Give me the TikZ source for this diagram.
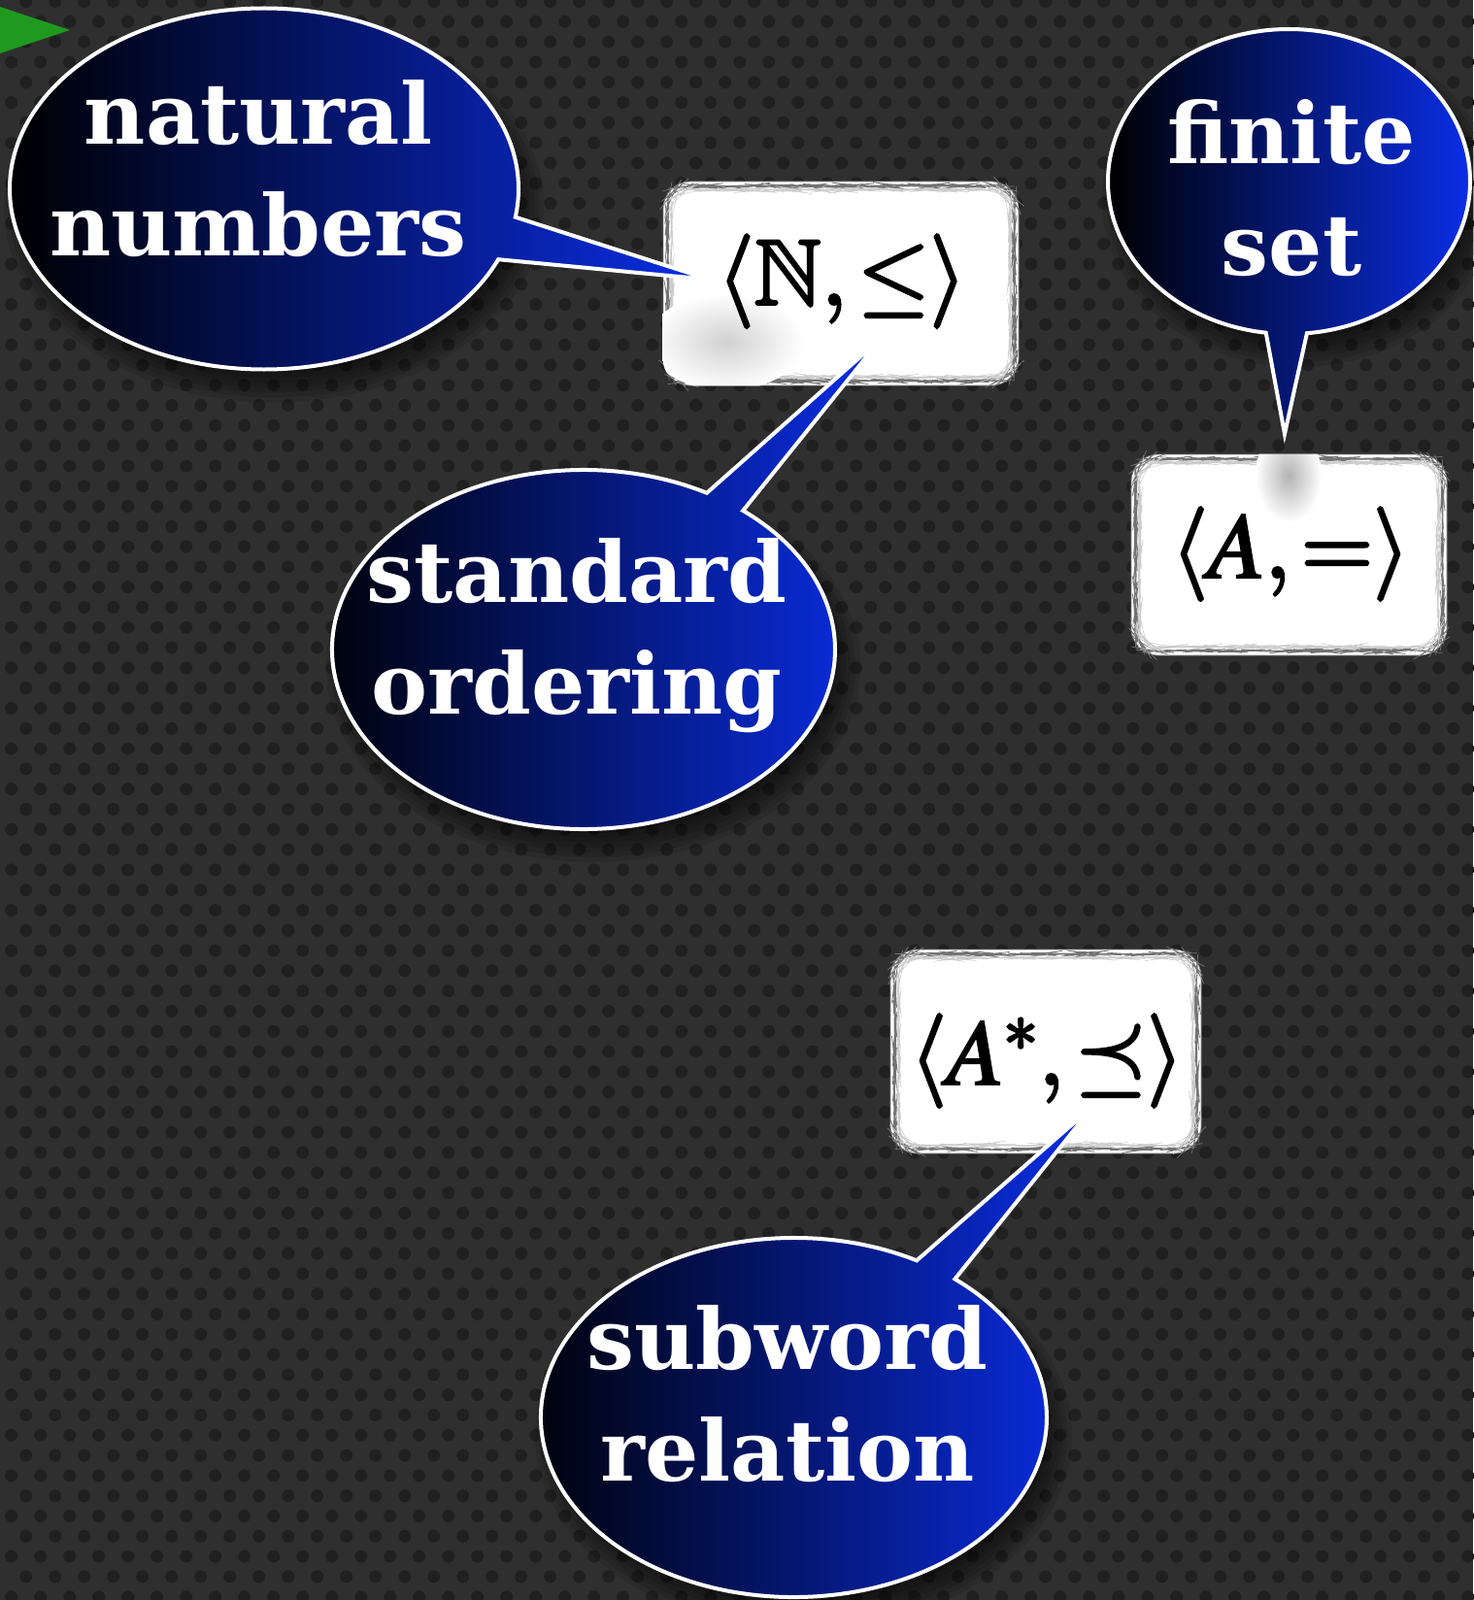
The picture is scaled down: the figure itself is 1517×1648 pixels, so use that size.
\documentclass[tikz,border=0pt]{standalone}
\usepackage{mathptmx}
\usepackage{amssymb}
\usepackage[no-math]{fontspec}
\newfontfamily\slabfont{DejaVu Serif}
\usetikzlibrary{shapes.callouts,decorations.pathmorphing,calc}
\definecolor{bgc}{HTML}{2F2F2F}
\definecolor{dotc}{HTML}{202020}
\definecolor{bluer}{HTML}{0A2EE6}
\definecolor{greenc}{HTML}{1F9A1F}
\newcommand{\heavymath}[1]{\special{pdf:literal direct 2.6 w 0 0 0 RG 2 Tr}#1\special{pdf:literal direct 0 Tr}}
\tikzset{
  bubble/.style={ellipse callout, draw=white, line width=4pt, left color=black, right color=bluer, inner sep=0pt},
  lbl/.style={text=white, font=\slabfont\bfseries\fontsize{87}{115}\selectfont, align=center, inner sep=0pt},
  mbox/.style={rectangle, rounded corners=28pt, fill=white, draw=black!50, line width=0.8pt, inner sep=0pt},
  rough/.style={draw=black!55, line width=0.7pt, rounded corners=22pt, decorate, decoration={random steps, segment length=6pt, amplitude=0.7pt}},
  mtext/.style={font=\fontsize{96}{96}\selectfont, text=black, inner sep=0pt},
  shadowlayer/.style={fill=black, opacity=0.1}
}
\begin{document}
\begin{tikzpicture}[x=1pt, y=-1pt]
\useasboundingbox (0,0) rectangle (1517,1648);
\fill[bgc] (0,0) rectangle (1517,1648);
% dotted texture
\foreach \j in {0,...,79} {
  \pgfmathsetmacro{\dy}{\j*20.8 + 1.5}
  \pgfmathsetmacro{\dx}{26.7 - mod(\j,2)*15}
  \fill[dotc] \foreach \i in {0,...,51} { ({\i*30 + \dx}, \dy) circle[radius=6.5] };
}
% green marker
\fill[greenc] (0,7) -- (72,31) -- (0,55) -- cycle;
% soft shadows of the bubbles
\foreach \cx/\cy/\rx/\ry in {272/194.5/262/186, 1327.5/187/186.5/157, 601/669/259/185, 817.5/1460/260.5/185} {
  \foreach \k in {0,...,6} {
    \fill[shadowlayer] (\cx+10,\cy+18) ellipse [x radius={\rx+16-5*\k}, y radius={\ry+16-5*\k}];
  }
}
% boxes
\node[mbox, minimum width=366pt, minimum height=210pt] (nbox) at (866,292) {};
\node[mbox, minimum width=325pt, minimum height=207pt] (abox) at (1327.5,571.5) {};
\node[mbox, minimum width=320pt, minimum height=210pt] (sbox) at (1077,1083) {};
\foreach \b in {nbox,abox,sbox} {
  \draw[rough] ($(\b.north west)+(5,5)$) rectangle ($(\b.south east)+(-5,-5)$);
  \draw[rough, draw=black!20, line width=0.5pt] ($(\b.north west)+(9,9)$) rectangle ($(\b.south east)+(-9,-9)$);
}
% smudges
\begin{scope}
  \clip[rounded corners=28pt] (nbox.north west) rectangle (nbox.south east);
  \shade[inner color=black!18, outer color=white] (748,352) ellipse [x radius=80, y radius=50];
\end{scope}
\begin{scope}
  \clip[rounded corners=28pt] (abox.north west) rectangle (abox.south east);
  \shade[inner color=black!30, outer color=white] (1327,490) ellipse [x radius=34, y radius=48];
\end{scope}
% math labels
\node[mtext] (nlab) at (867,290) {\heavymath{$\langle\mathbb{N},\leq\rangle$}};
\node[mtext] (alab) at (1329,571) {\heavymath{$\langle A,=\rangle$}};
\node[mtext] (slab) at (1078,1093) {\heavymath{$\langle A^*,\preceq\rangle$}};
% pointer tips
\coordinate (tipN) at (731,288);
\coordinate (tipF) at (1323,447);
\coordinate (tipS) at (908,348);
\coordinate (tipW) at (1126,1139);
% bubbles
\node[bubble, minimum width=524pt, minimum height=372pt, callout absolute pointer={(tipN)}, callout pointer arc=14] (natC) at (272,194.5) {};
\node[bubble, minimum width=373pt, minimum height=314pt, callout absolute pointer={(tipF)}, callout pointer arc=13] (finC) at (1327.5,187) {};
\node[bubble, minimum width=518pt, minimum height=370pt, callout absolute pointer={(tipS)}, callout pointer arc=10] (stdC) at (601,669) {};
\node[bubble, minimum width=521pt, minimum height=370pt, callout absolute pointer={(tipW)}, callout pointer arc=10.5] (subC) at (817.5,1460) {};
% bubble texts
\node[lbl] (natT) at (266,174) {natural\\numbers};
\node[lbl] (finT) at (1330,194) {finite\\set};
\node[lbl] (stdT) at (594,655) {standard\\ordering};
\node[lbl] (subT) at (811,1436) {subword\\relation};
\end{tikzpicture}
\end{document}
